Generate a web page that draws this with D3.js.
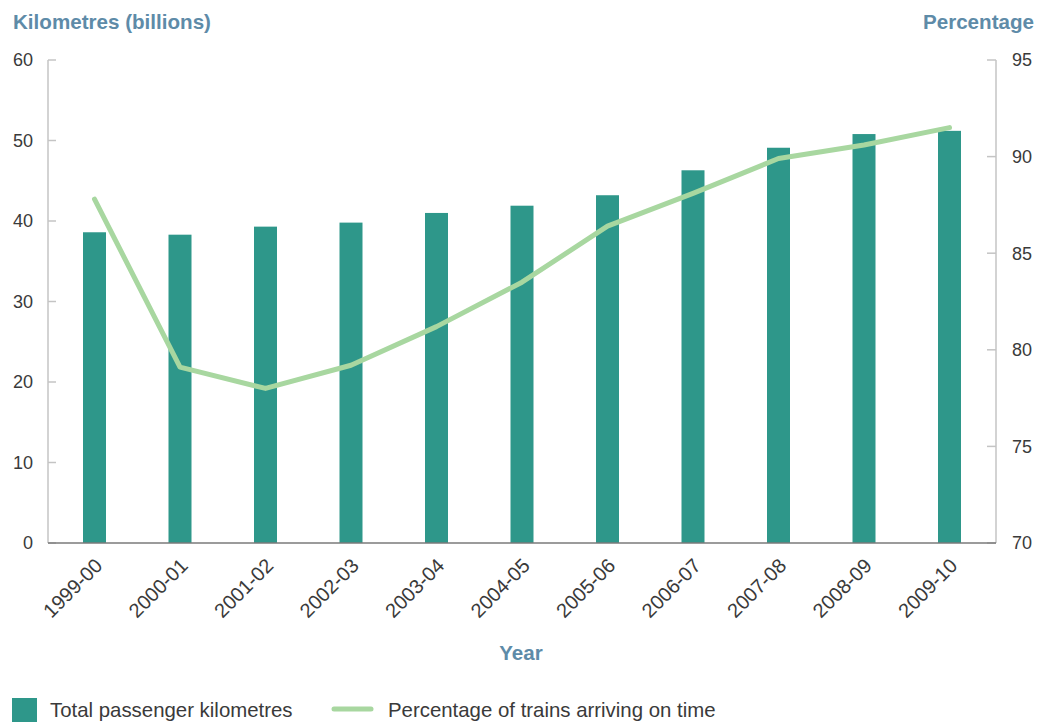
<!DOCTYPE html>
<html>
<head>
<meta charset="utf-8">
<script src="https://cdn.jsdelivr.net/npm/d3@7"></script>
<style>
  html, body { margin: 0; padding: 0; background: #fff; }
  svg { display: block; }
  text { font-family: "Liberation Sans", Arial, sans-serif; }
</style>
</head>
<body>
<svg id="chart" width="1046" height="722"></svg>
<script>
// Financial years
const years = ["1999-00", "2000-01", "2001-02", "2002-03", "2003-04", "2004-05",
               "2005-06", "2006-07", "2007-08", "2008-09", "2009-10"];
// Total passenger kilometres (billions)
const passengerKm = [38.6, 38.3, 39.3, 39.8, 41.0, 41.9, 43.2, 46.3, 49.1, 50.8, 51.2];
// Percentage of trains arriving on time
const onTimePct = [87.8, 79.1, 78.0, 79.2, 81.2, 83.5, 86.4, 88.1, 89.9, 90.6, 91.5];

const leftTicks = [0, 10, 20, 30, 40, 50, 60];
const rightTicks = [70, 75, 80, 85, 90, 95];

const barColor = "#2e978a";
const lineColor = "#a8d7a0";
const titleColor = "#5e8ba8";
const textColor = "#3a3a3a";

const svg = d3.select("#chart");
const plotL = 48, plotR = 996, plotT = 60, plotB = 543;

const x = d3.scalePoint().domain(years).range([94.5, 949.5]);
const yL = d3.scaleLinear().domain([0, 60]).range([plotB, plotT]);
const yR = d3.scaleLinear().domain([70, 95]).range([plotB, plotT]);
const barW = 23;

// Bars
svg.append("g").selectAll("rect")
  .data(years.map((y, i) => ({ year: y, v: passengerKm[i] })))
  .join("rect")
  .attr("x", d => x(d.year) - barW / 2)
  .attr("width", barW)
  .attr("y", d => yL(d.v))
  .attr("height", d => yL(0) - yL(d.v))
  .attr("fill", barColor);

// Left axis
const gL = svg.append("g");
gL.append("line").attr("x1", plotL).attr("x2", plotL).attr("y1", plotT).attr("y2", plotB)
  .attr("stroke", "#c4c4c4").attr("stroke-width", 1.5);
gL.selectAll("line.t").data(leftTicks).join("line").attr("class", "t")
  .attr("x1", plotL).attr("x2", plotL + 8)
  .attr("y1", d => yL(d)).attr("y2", d => yL(d))
  .attr("stroke", "#c4c4c4").attr("stroke-width", 1.5);
gL.selectAll("text").data(leftTicks).join("text")
  .attr("x", 33).attr("y", d => yL(d)).attr("dy", "0.36em")
  .attr("text-anchor", "end").attr("font-size", 18).attr("fill", textColor)
  .text(d => d);

// Right axis
const gR = svg.append("g");
gR.append("line").attr("x1", plotR).attr("x2", plotR).attr("y1", plotT).attr("y2", plotB)
  .attr("stroke", "#c4c4c4").attr("stroke-width", 1.5);
gR.selectAll("line.t").data(rightTicks).join("line").attr("class", "t")
  .attr("x1", plotR - 9).attr("x2", plotR)
  .attr("y1", d => yR(d)).attr("y2", d => yR(d))
  .attr("stroke", "#c4c4c4").attr("stroke-width", 1.5);
gR.selectAll("text").data(rightTicks).join("text")
  .attr("x", 1012).attr("y", d => yR(d)).attr("dy", "0.36em")
  .attr("text-anchor", "start").attr("font-size", 18).attr("fill", textColor)
  .text(d => d);

// Baseline
svg.append("line").attr("x1", plotL).attr("x2", plotR).attr("y1", plotB).attr("y2", plotB)
  .attr("stroke", "#7a7a7a").attr("stroke-width", 1.5);

// Category labels
svg.append("g").selectAll("text").data(years).join("text")
  .attr("transform", d => `translate(${x(d) + 9},${plotB + 24}) rotate(-45)`)
  .attr("text-anchor", "end").attr("font-size", 20).attr("fill", textColor)
  .text(d => d);

// On-time line
const line = d3.line().x((d, i) => x(years[i])).y(d => yR(d));
svg.append("path").datum(onTimePct)
  .attr("d", line).attr("fill", "none")
  .attr("stroke", lineColor).attr("stroke-width", 5)
  .attr("stroke-linecap", "round").attr("stroke-linejoin", "round");

// Axis titles
svg.append("text").attr("x", 13).attr("y", 29)
  .attr("font-size", 20.6).attr("font-weight", "bold").attr("fill", titleColor)
  .text("Kilometres (billions)");
svg.append("text").attr("x", 1034).attr("y", 29).attr("text-anchor", "end")
  .attr("font-size", 20.6).attr("font-weight", "bold").attr("fill", titleColor)
  .text("Percentage");
svg.append("text").attr("x", 521).attr("y", 660).attr("text-anchor", "middle")
  .attr("font-size", 20.6).attr("font-weight", "bold").attr("fill", titleColor)
  .text("Year");

// Legend
const lg = svg.append("g");
lg.append("rect").attr("x", 12).attr("y", 698).attr("width", 25).attr("height", 26)
  .attr("fill", barColor);
lg.append("text").attr("x", 50).attr("y", 717).attr("font-size", 20.4).attr("fill", textColor)
  .text("Total passenger kilometres");
lg.append("line").attr("x1", 334).attr("x2", 371).attr("y1", 709).attr("y2", 709)
  .attr("stroke", lineColor).attr("stroke-width", 5).attr("stroke-linecap", "round");
lg.append("text").attr("x", 388).attr("y", 717).attr("font-size", 20.4).attr("fill", textColor)
  .text("Percentage of trains arriving on time");
</script>
</body>
</html>
